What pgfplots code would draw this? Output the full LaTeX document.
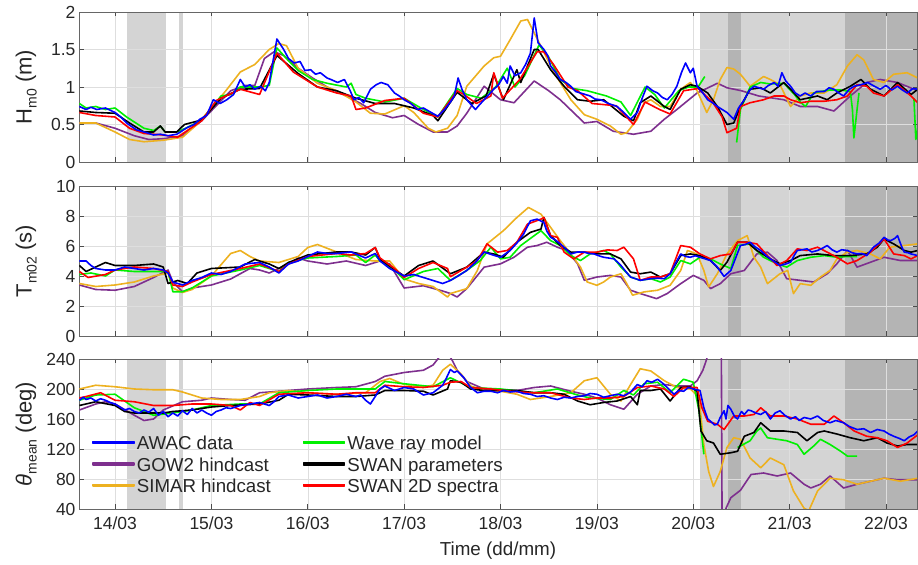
\documentclass[border=0pt]{standalone}
\usepackage{fontspec}
\setmainfont{Liberation Sans}
\usepackage{pgfplots}
\pgfplotsset{compat=1.18}

\definecolor{cAWAC}{RGB}{0,0,255}
\definecolor{cGOW}{RGB}{126,47,142}
\definecolor{cSIMAR}{RGB}{237,177,32}
\definecolor{cRay}{RGB}{0,240,0}
\definecolor{cSWANp}{RGB}{0,0,0}
\definecolor{cSWAN}{RGB}{255,0,0}
\definecolor{shadeL}{RGB}{212,212,212}
\definecolor{shadeD}{RGB}{180,180,180}
\definecolor{txt}{RGB}{38,38,38}

% lowered, smaller subscript for the axis labels
\newcommand{\sub}[1]{\raisebox{-5bp}{\fontsize{14bp}{16bp}\selectfont #1}}

% grey bands marking the periods of interest
\newcommand{\bands}[2]{%
  \begin{pgfonlayer}{axis background}
    \fill[shadeL] (axis cs:14.12,#1) rectangle (axis cs:14.53,#2);
    \fill[shadeL] (axis cs:14.667,#1) rectangle (axis cs:14.708,#2);
    \fill[shadeL] (axis cs:20.07,#1) rectangle (axis cs:22.322,#2);
    \fill[shadeD] (axis cs:20.363,#1) rectangle (axis cs:20.50,#2);
    \fill[shadeD] (axis cs:21.575,#1) rectangle (axis cs:22.322,#2);
  \end{pgfonlayer}}

\pgfplotsset{
  panel/.style={
    set layers,
    scale only axis, width=838bp, height=150bp,
    xmin=13.626, xmax=22.322,
    xtick={14,...,22},
    grid=major,
    major grid style={black!13, line width=0.5bp},
    axis line style={black!60, line width=0.6bp},
    tick style={black!70, line width=0.6bp},
    major tick length=4.5bp,
    ticklabel style={font=\fontsize{17.5bp}{20bp}\selectfont, text=txt},
    xticklabel style={yshift=-4bp},
    /pgf/number format/assume math mode=true,
    ylabel style={font=\fontsize{22bp}{25bp}\selectfont, text=txt,
      at={(axis description cs:-0.063,0.5)}, anchor=center},
    xlabel style={font=\fontsize{18.8bp}{22bp}\selectfont, text=txt,
      at={(axis description cs:0.5,-0.28)}, anchor=center},
    every axis plot/.append style={line width=1.6bp, line join=round},
    clip=true,
  },
}

\begin{document}
\begin{tikzpicture}

%% ---------------- significant wave height ----------------
\begin{axis}[panel, at={(79bp,403bp)}, anchor=south west,
  ymin=0, ymax=2, ytick={0,0.5,1,1.5,2}, xticklabels={},
  ylabel={H\sub{m0} (m)}]
\bands{0}{2}
\addplot[cGOW] coordinates {(13.63,0.52)(13.8,0.52)(14.0,0.45)(14.2,0.35)(14.35,0.30)(14.5,0.31)(14.7,0.35)(14.9,0.55)(15.05,0.75)(15.2,0.95)(15.35,1.02)(15.45,1.02)(15.55,1.38)(15.65,1.47)(15.75,1.42)(15.9,1.25)(16.05,1.12)(16.2,1.0)(16.4,0.88)(16.55,0.78)(16.7,0.66)(16.88,0.59)(17.0,0.62)(17.15,0.5)(17.3,0.40)(17.45,0.40)(17.55,0.48)(17.65,0.65)(17.83,1.01)(18.0,0.83)(18.14,0.79)(18.35,1.08)(18.5,0.95)(18.62,0.83)(18.87,0.52)(19.0,0.54)(19.17,0.41)(19.38,0.37)(19.56,0.41)(19.7,0.57)(19.83,0.70)(20.04,0.92)(20.22,1.03)(20.25,1.05)(20.35,0.99)(20.5,0.95)(20.68,0.88)(20.94,0.83)(21.11,0.74)(21.29,0.74)(21.46,0.68)(21.63,0.88)(21.8,1.06)(21.94,1.10)(22.12,1.06)(22.33,0.95)};
\addplot[cSIMAR] coordinates {(13.63,0.52)(13.8,0.52)(14.0,0.40)(14.15,0.30)(14.3,0.27)(14.5,0.29)(14.7,0.33)(14.85,0.50)(15.0,0.72)(15.15,0.95)(15.3,1.20)(15.45,1.30)(15.6,1.50)(15.7,1.58)(15.78,1.55)(15.9,1.25)(16.1,1.05)(16.3,0.95)(16.5,0.80)(16.65,0.65)(16.8,0.64)(17.0,0.75)(17.1,0.66)(17.25,0.45)(17.33,0.40)(17.45,0.45)(17.55,0.62)(17.65,1.01)(17.83,1.28)(17.93,1.39)(18.0,1.41)(18.1,1.63)(18.21,1.88)(18.28,1.90)(18.35,1.72)(18.42,1.54)(18.52,1.28)(18.62,1.06)(18.73,0.83)(18.87,0.63)(19.0,0.57)(19.14,0.48)(19.25,0.37)(19.31,0.39)(19.42,0.57)(19.49,0.79)(19.56,0.83)(19.66,0.74)(19.76,0.74)(19.87,0.97)(19.97,1.06)(20.04,0.95)(20.14,0.66)(20.21,0.83)(20.28,1.10)(20.35,1.26)(20.42,1.24)(20.49,1.17)(20.59,1.01)(20.73,1.14)(20.8,1.10)(20.9,1.03)(21.01,0.74)(21.11,0.88)(21.22,0.92)(21.36,0.92)(21.49,1.03)(21.6,1.28)(21.7,1.43)(21.77,1.36)(21.87,1.10)(21.98,1.06)(22.08,1.17)(22.22,1.19)(22.33,1.12)};
\addplot[cRay] coordinates {(13.63,0.78)(13.7,0.72)(13.8,0.74)(13.9,0.70)(14.0,0.72)(14.12,0.60)(14.3,0.45)(14.4,0.42)(14.47,0.48)(14.52,0.40)(14.64,0.40)(14.75,0.46)(14.9,0.56)(15.1,0.88)(15.2,0.90)(15.3,1.0)(15.5,1.0)(15.6,1.02)(15.68,1.52)(15.8,1.35)(15.9,1.22)(16.05,1.1)(16.2,1.05)(16.4,1.0)(16.45,1.05)(16.5,0.90)(16.6,0.85)(16.8,0.80)(17.0,0.85)(17.2,0.7)(17.35,0.6)(17.55,0.98)(17.65,0.90)(17.8,0.85)(17.95,1.0)(18.07,1.25)(18.15,1.0)(18.25,1.15)(18.4,1.56)(18.5,1.4)(18.62,1.1)(18.75,0.98)(18.9,0.95)(19.1,0.88)(19.25,0.8)(19.35,0.62)(19.5,1.0)(19.6,0.9)(19.7,0.72)(19.85,0.95)(19.95,1.0)(20.05,1.0)(20.12,1.14)};
\addplot[cRay] coordinates {(20.45,0.26)(20.49,0.70)(20.59,1.0)(20.7,1.06)(20.8,1.04)(20.94,1.05)(21.05,0.90)(21.11,0.80)(21.165,0.74)(21.25,0.92)(21.32,0.94)(21.42,0.96)(21.53,0.96)(21.63,0.94)(21.652,0.70)(21.667,0.32)(21.70,0.70)(21.72,0.92)};
\addplot[cRay] coordinates {(22.29,0.85)(22.31,0.30)(22.33,0.45)};
\addplot[cSWANp] coordinates {(13.63,0.68)(13.8,0.66)(14.0,0.65)(14.15,0.52)(14.3,0.40)(14.4,0.40)(14.47,0.48)(14.52,0.40)(14.64,0.40)(14.72,0.50)(14.9,0.56)(15.1,0.85)(15.3,0.97)(15.5,0.98)(15.68,1.42)(15.9,1.18)(16.1,1.0)(16.3,0.95)(16.5,0.85)(16.7,0.78)(16.9,0.78)(17.1,0.72)(17.3,0.62)(17.35,0.55)(17.55,0.93)(17.7,0.78)(17.85,0.88)(17.93,1.17)(18.03,0.83)(18.17,1.23)(18.21,1.06)(18.35,1.5)(18.39,1.5)(18.52,1.23)(18.66,1.01)(18.8,0.83)(18.93,0.81)(19.07,0.83)(19.28,0.61)(19.38,0.55)(19.45,0.79)(19.56,0.88)(19.7,0.74)(19.76,0.70)(19.87,0.97)(19.97,1.03)(20.04,1.01)(20.15,0.92)(20.25,0.74)(20.35,0.50)(20.42,0.52)(20.49,0.74)(20.59,0.97)(20.7,0.99)(20.8,0.92)(20.94,1.06)(21.01,0.97)(21.11,0.83)(21.29,0.88)(21.39,0.83)(21.49,0.92)(21.63,1.01)(21.74,1.10)(21.84,0.97)(21.98,0.88)(22.12,1.06)(22.26,0.90)(22.33,0.97)};
\addplot[cSWAN] coordinates {(13.63,0.66)(13.8,0.62)(14.0,0.60)(14.15,0.45)(14.3,0.38)(14.5,0.36)(14.65,0.33)(14.75,0.42)(14.9,0.55)(15.05,0.82)(15.3,0.97)(15.5,0.90)(15.68,1.45)(15.85,1.2)(16.1,1.0)(16.3,0.92)(16.45,0.88)(16.5,0.70)(16.6,0.72)(16.8,0.82)(17.0,0.85)(17.2,0.65)(17.35,0.6)(17.55,0.95)(17.62,0.9)(17.75,0.78)(17.9,0.88)(17.93,1.19)(18.02,0.85)(18.2,1.1)(18.38,1.47)(18.45,1.47)(18.55,1.3)(18.7,1.0)(18.8,0.95)(18.95,0.78)(19.2,0.75)(19.38,0.50)(19.5,0.8)(19.65,0.7)(19.76,0.64)(19.9,0.95)(20.05,0.98)(20.2,0.8)(20.3,0.6)(20.35,0.39)(20.45,0.45)(20.49,0.74)(20.59,0.79)(20.73,0.83)(20.84,0.88)(20.94,0.88)(21.01,0.83)(21.11,0.79)(21.22,0.81)(21.36,0.81)(21.49,0.83)(21.6,0.88)(21.7,1.03)(21.8,1.01)(21.87,0.92)(21.98,0.88)(22.12,1.03)(22.26,0.88)(22.33,0.79)};
\addplot[cAWAC] coordinates {(13.63,0.74)(13.7,0.70)(13.75,0.73)(13.81,0.70)(13.9,0.72)(14.0,0.66)(14.06,0.60)(14.12,0.52)(14.22,0.43)(14.33,0.39)(14.40,0.36)(14.47,0.37)(14.55,0.35)(14.64,0.37)(14.75,0.46)(14.82,0.50)(14.88,0.57)(14.95,0.62)(15.02,0.83)(15.09,0.78)(15.16,0.83)(15.23,0.90)(15.30,1.10)(15.35,1.0)(15.40,1.03)(15.45,0.97)(15.51,1.01)(15.56,0.95)(15.60,1.06)(15.68,1.64)(15.75,1.50)(15.80,1.38)(15.86,1.32)(15.92,1.34)(15.97,1.22)(16.03,1.23)(16.08,1.17)(16.13,1.19)(16.2,1.12)(16.24,1.10)(16.31,1.06)(16.38,1.10)(16.44,0.95)(16.48,0.83)(16.53,0.86)(16.58,0.79)(16.65,0.97)(16.71,1.03)(16.76,1.06)(16.83,1.03)(16.90,0.92)(16.95,0.88)(17.0,0.83)(17.07,0.78)(17.14,0.70)(17.2,0.72)(17.28,0.66)(17.35,0.61)(17.42,0.70)(17.48,0.80)(17.52,0.88)(17.56,1.12)(17.60,0.97)(17.65,0.83)(17.74,0.70)(17.78,0.76)(17.83,0.83)(17.88,0.90)(17.93,0.97)(17.98,1.03)(18.03,1.14)(18.07,1.05)(18.10,1.28)(18.15,1.15)(18.21,1.19)(18.26,1.30)(18.31,1.45)(18.35,1.92)(18.39,1.59)(18.45,1.50)(18.49,1.42)(18.52,1.28)(18.57,1.20)(18.62,1.10)(18.68,1.06)(18.73,1.01)(18.78,0.94)(18.83,0.92)(18.88,0.90)(18.93,0.88)(18.98,0.84)(19.04,0.83)(19.12,0.78)(19.21,0.74)(19.28,0.66)(19.35,0.57)(19.42,0.66)(19.47,0.85)(19.52,1.01)(19.58,0.95)(19.63,0.92)(19.68,0.86)(19.73,0.83)(19.78,0.90)(19.83,1.01)(19.88,1.20)(19.92,1.32)(19.97,1.19)(20.0,1.25)(20.04,1.01)(20.1,0.92)(20.15,0.83)(20.2,0.79)(20.25,0.74)(20.3,0.70)(20.35,0.66)(20.42,0.57)(20.47,0.72)(20.53,0.83)(20.58,0.95)(20.63,1.01)(20.68,0.99)(20.73,0.97)(20.78,1.02)(20.84,1.06)(20.88,1.01)(20.92,1.19)(20.96,1.08)(21.01,1.01)(21.06,0.92)(21.11,0.88)(21.16,0.92)(21.22,0.88)(21.28,0.94)(21.36,0.94)(21.41,0.99)(21.46,0.97)(21.51,0.92)(21.56,0.88)(21.62,0.97)(21.67,1.01)(21.74,1.03)(21.81,1.06)(21.88,1.01)(21.94,0.97)(22.0,1.02)(22.06,0.96)(22.12,1.01)(22.17,0.96)(22.22,0.92)(22.28,0.98)(22.33,0.97)};
\end{axis}

%% ---------------- mean period ----------------
\begin{axis}[panel, at={(79bp,229bp)}, anchor=south west,
  ymin=0, ymax=10, ytick={0,2,...,10}, xticklabels={},
  ylabel={T\sub{m02} (s)}]
\bands{0}{10}
\addplot[cGOW] coordinates {(13.63,3.4)(13.8,3.1)(14.0,3.05)(14.2,3.3)(14.4,3.9)(14.55,4.4)(14.6,3.6)(14.7,2.95)(14.8,3.2)(15.0,3.4)(15.2,3.8)(15.4,4.5)(15.5,4.4)(15.6,4.2)(15.7,4.5)(15.8,4.8)(15.9,5.2)(16.0,5.0)(16.2,4.8)(16.4,5.0)(16.6,4.7)(16.75,5.0)(16.85,4.8)(17.0,3.2)(17.2,3.35)(17.4,3.0)(17.48,2.83)(17.55,2.60)(17.65,3.16)(17.83,4.59)(18.0,4.81)(18.14,5.25)(18.28,5.92)(18.38,6.03)(18.48,6.25)(18.59,5.92)(18.69,5.70)(18.8,4.81)(18.87,3.71)(19.0,3.93)(19.14,4.04)(19.25,3.93)(19.35,3.05)(19.45,2.83)(19.62,2.49)(19.73,2.83)(19.87,3.49)(20.0,4.04)(20.11,3.71)(20.18,3.16)(20.28,3.49)(20.39,4.15)(20.53,4.37)(20.66,5.47)(20.77,5.59)(20.87,5.03)(20.97,3.82)(21.11,3.71)(21.25,3.60)(21.39,4.15)(21.49,4.81)(21.6,5.70)(21.7,4.59)(21.84,4.92)(21.98,5.25)(22.15,5.03)(22.33,5.03)};
\addplot[cSIMAR] coordinates {(13.63,3.5)(13.8,3.3)(14.0,3.4)(14.2,3.6)(14.4,4.0)(14.55,4.2)(14.6,3.2)(14.7,2.9)(14.8,3.1)(15.0,4.0)(15.2,5.5)(15.3,5.7)(15.4,5.3)(15.5,5.0)(15.7,4.9)(15.9,5.3)(16.0,5.9)(16.1,6.1)(16.3,5.6)(16.5,5.1)(16.7,5.0)(16.85,5.0)(17.0,3.8)(17.15,3.5)(17.3,3.3)(17.45,2.6)(17.48,2.83)(17.65,3.16)(17.76,4.37)(17.86,6.14)(18.03,7.02)(18.17,7.90)(18.29,8.57)(18.42,8.12)(18.52,7.24)(18.62,6.36)(18.73,5.47)(18.83,4.59)(18.9,3.60)(19.0,3.38)(19.07,3.60)(19.14,3.93)(19.25,4.15)(19.31,3.49)(19.37,2.72)(19.49,2.94)(19.63,3.05)(19.76,3.38)(19.87,4.37)(19.94,5.70)(20.04,5.47)(20.11,4.37)(20.16,3.27)(20.25,4.15)(20.35,5.47)(20.46,6.36)(20.56,6.69)(20.63,5.25)(20.7,4.59)(20.77,3.49)(20.9,4.15)(20.98,4.37)(21.04,2.83)(21.11,3.49)(21.22,3.38)(21.32,3.93)(21.42,4.37)(21.49,5.14)(21.6,5.59)(21.7,5.70)(21.84,5.47)(21.94,5.14)(22.04,5.92)(22.19,6.03)(22.33,6.14)};
\addplot[cRay] coordinates {(13.63,4.1)(13.75,4.2)(13.9,4.0)(14.0,4.4)(14.2,4.3)(14.4,4.3)(14.55,4.3)(14.6,2.95)(14.7,2.95)(14.8,3.2)(15.0,4.0)(15.3,4.4)(15.5,4.7)(15.7,4.3)(15.8,4.9)(16.0,5.2)(16.3,5.3)(16.5,5.4)(16.6,4.9)(16.7,5.4)(16.75,5.0)(16.9,4.4)(17.0,3.75)(17.2,4.3)(17.35,4.5)(17.48,3.71)(17.65,4.37)(17.79,5.03)(17.9,5.92)(18.0,5.14)(18.1,5.25)(18.21,6.03)(18.35,6.69)(18.42,7.02)(18.52,6.36)(18.62,6.03)(18.73,5.36)(18.83,5.03)(18.93,5.47)(19.07,5.70)(19.14,5.47)(19.25,4.59)(19.35,3.93)(19.45,3.71)(19.56,3.82)(19.66,3.60)(19.76,3.93)(19.87,5.03)(19.97,4.81)(20.07,5.25)(20.18,5.14)(20.28,4.8)(20.39,4.5)(20.46,6.03)(20.59,6.14)(20.73,5.25)(20.87,4.81)(20.97,4.59)(21.08,5.03)(21.22,5.25)(21.36,5.36)(21.49,5.25)(21.6,5.3)(21.7,5.3)};
\addplot[cSWANp] coordinates {(13.63,4.7)(13.7,4.3)(13.9,4.9)(14.0,4.7)(14.2,4.7)(14.4,4.8)(14.5,4.6)(14.55,3.5)(14.65,3.7)(14.75,3.5)(14.85,4.2)(15.0,4.5)(15.3,4.6)(15.45,5.1)(15.6,4.8)(15.7,4.5)(15.8,4.9)(16.0,5.4)(16.3,5.6)(16.45,5.6)(16.6,5.4)(16.7,5.9)(16.75,5.1)(17.0,4.0)(17.15,4.7)(17.3,5.0)(17.48,4.15)(17.65,4.59)(17.83,5.59)(17.93,5.47)(18.03,5.25)(18.17,6.25)(18.31,6.91)(18.42,7.13)(18.45,7.90)(18.52,6.69)(18.62,6.03)(18.73,5.59)(18.87,5.59)(19.0,5.47)(19.14,5.47)(19.25,5.14)(19.35,4.26)(19.45,4.15)(19.56,4.26)(19.66,3.93)(19.76,4.15)(19.87,5.36)(19.97,5.47)(20.07,5.36)(20.18,5.03)(20.28,4.37)(20.35,4.92)(20.46,6.25)(20.56,6.25)(20.66,5.70)(20.8,5.14)(20.9,4.81)(21.01,5.03)(21.11,5.36)(21.29,5.47)(21.46,5.36)(21.63,5.36)(21.8,5.47)(21.91,5.92)(21.98,6.47)(22.08,6.14)(22.19,5.70)(22.26,5.59)(22.33,5.70)};
\addplot[cSWAN] coordinates {(13.63,4.3)(13.72,3.9)(13.9,4.1)(14.0,4.4)(14.2,4.6)(14.4,4.5)(14.55,4.3)(14.6,3.4)(14.7,3.3)(14.8,3.6)(15.0,4.1)(15.3,4.5)(15.5,4.8)(15.7,4.3)(15.8,4.8)(16.0,5.3)(16.3,5.5)(16.45,5.4)(16.6,5.5)(16.7,5.9)(16.75,5.2)(16.9,4.5)(17.0,3.9)(17.15,4.5)(17.3,4.9)(17.45,4.5)(17.48,3.95)(17.65,4.59)(17.76,5.03)(17.86,6.14)(17.97,5.59)(18.07,5.70)(18.17,6.25)(18.28,7.46)(18.42,7.79)(18.45,7.90)(18.52,6.69)(18.59,6.58)(18.66,5.59)(18.76,5.14)(18.87,5.59)(19.0,5.59)(19.11,5.74)(19.21,5.70)(19.28,5.92)(19.38,5.14)(19.45,3.71)(19.56,3.93)(19.66,3.93)(19.76,4.15)(19.87,6.03)(19.97,5.92)(20.07,5.47)(20.18,5.14)(20.28,5.36)(20.39,5.47)(20.46,6.25)(20.56,6.25)(20.66,6.14)(20.77,5.36)(20.87,4.70)(20.97,5.03)(21.08,5.81)(21.18,5.70)(21.29,5.92)(21.39,5.59)(21.49,5.25)(21.6,4.81)(21.7,5.03)(21.84,5.59)(21.98,6.47)(22.08,5.47)(22.19,5.36)(22.26,5.14)(22.33,5.36)};
\addplot[cAWAC] coordinates {(13.63,5.0)(13.7,5.0)(13.75,4.7)(13.8,4.5)(13.9,4.4)(14.0,4.4)(14.1,4.6)(14.2,4.5)(14.3,4.4)(14.4,4.5)(14.5,4.4)(14.55,4.2)(14.6,3.6)(14.7,3.4)(14.8,3.7)(14.9,3.9)(15.0,4.2)(15.1,4.1)(15.2,4.3)(15.35,4.8)(15.5,4.9)(15.6,4.6)(15.7,4.2)(15.8,4.8)(15.9,5.0)(16.0,5.3)(16.1,5.6)(16.2,5.5)(16.3,5.5)(16.45,5.6)(16.6,5.2)(16.7,5.5)(16.75,5.0)(16.85,4.5)(17.0,4.0)(17.1,4.1)(17.2,3.9)(17.3,3.7)(17.4,3.5)(17.48,3.7)(17.56,4.0)(17.65,4.37)(17.74,4.9)(17.83,5.6)(17.92,5.4)(18.0,5.25)(18.1,5.7)(18.17,6.2)(18.24,6.8)(18.31,7.68)(18.38,7.79)(18.45,7.57)(18.48,7.0)(18.52,6.58)(18.57,6.4)(18.62,6.14)(18.68,5.8)(18.73,5.47)(18.8,5.6)(18.87,5.59)(18.92,5.5)(18.97,5.47)(19.02,5.35)(19.07,5.25)(19.12,5.2)(19.18,5.14)(19.25,4.70)(19.30,4.3)(19.35,3.93)(19.45,3.71)(19.56,3.82)(19.63,3.85)(19.7,3.82)(19.76,4.15)(19.82,4.9)(19.87,5.47)(19.92,5.3)(19.97,5.25)(20.02,5.35)(20.07,5.25)(20.12,5.15)(20.18,5.03)(20.25,4.59)(20.32,3.97)(20.39,4.37)(20.44,5.2)(20.49,6.03)(20.54,6.1)(20.59,6.25)(20.64,5.95)(20.7,5.70)(20.75,5.4)(20.8,5.14)(20.9,4.70)(20.96,4.8)(21.01,4.92)(21.05,5.4)(21.08,5.70)(21.13,5.75)(21.18,5.81)(21.23,5.6)(21.29,5.70)(21.34,5.85)(21.39,6.03)(21.44,5.75)(21.49,5.59)(21.54,5.75)(21.6,5.70)(21.65,5.55)(21.7,5.47)(21.75,5.5)(21.8,5.36)(21.87,5.92)(21.93,6.2)(21.98,6.58)(22.02,6.4)(22.05,6.36)(22.09,6.5)(22.12,6.69)(22.16,6.0)(22.19,5.59)(22.23,5.55)(22.26,5.47)(22.33,5.36)};
\end{axis}

%% ---------------- mean direction ----------------
\begin{axis}[panel, at={(79bp,56bp)}, anchor=south west,
  ymin=40, ymax=240, ytick={40,80,...,240},
  xticklabels={14/03,15/03,16/03,17/03,18/03,19/03,20/03,21/03,22/03},
  xlabel={Time (dd/mm)},
  ylabel={{\itshape θ}\sub{mean} (deg)},
  legend columns=2,
  legend cell align=left,
  legend image code/.code={\fill[#1] (0bp,-0.9bp) rectangle (41bp,0.9bp);},
  legend style={at={(axis description cs:0.012,0.53)}, anchor=north west,
    draw=none, fill=none,
    font=\fontsize{18.7bp}{21.5bp}\selectfont, text=txt,
    /tikz/every even column/.append style={column sep=30bp}}]
\bands{40}{240}
\addlegendimage{color=cAWAC}\addlegendentry{AWAC data\rule[-6bp]{0pt}{22bp}}
\addlegendimage{color=cRay}\addlegendentry{Wave ray model\rule[-6bp]{0pt}{22bp}}
\addlegendimage{color=cGOW}\addlegendentry{GOW2 hindcast\rule[-6bp]{0pt}{22bp}}
\addlegendimage{color=cSWANp}\addlegendentry{SWAN parameters\rule[-6bp]{0pt}{22bp}}
\addlegendimage{color=cSIMAR}\addlegendentry{SIMAR hindcast\rule[-6bp]{0pt}{22bp}}
\addlegendimage{color=cSWAN}\addlegendentry{SWAN 2D spectra\rule[-6bp]{0pt}{22bp}}
\addplot[cGOW, forget plot] coordinates {(13.63,172)(13.8,180)(13.9,183)(14.0,180)(14.2,165)(14.3,158)(14.4,160)(14.5,172)(14.7,183)(14.9,185)(15.0,188)(15.2,186)(15.35,185)(15.5,195)(15.7,197)(16.0,200)(16.3,202)(16.5,203)(16.7,210)(16.8,217)(17.0,222)(17.2,225)(17.3,232)(17.38,245)(17.45,248)(17.5,238)(17.55,225)(17.65,210)(17.83,200)(18.17,198)(18.35,202)(18.52,204)(18.73,197)(18.87,193)(19.0,188)(19.14,179)(19.28,173)(19.42,193)(19.56,204)(19.7,206)(19.83,204)(19.97,204)(20.04,211)(20.1,225)(20.14,240)(20.2,280)(20.29,300)(20.30,0)(20.33,30)(20.34,41)(20.39,55)(20.49,65)(20.6,86)(20.73,88)(20.87,84)(21.01,88)(21.15,73)(21.22,68)(21.32,73)(21.42,84)(21.56,68)(21.7,73)(21.84,77)(21.98,81)(22.12,79)(22.33,79)};
\addplot[cSIMAR, forget plot] coordinates {(13.63,200)(13.8,205)(14.0,203)(14.2,200)(14.4,199)(14.6,199)(14.7,196)(14.9,188)(15.1,186)(15.3,186)(15.5,190)(15.6,195)(15.8,198)(16.0,195)(16.3,193)(16.6,195)(16.75,210)(16.85,214)(17.0,206)(17.2,203)(17.3,205)(17.4,225)(17.48,233)(17.59,220)(17.69,204)(17.83,198)(18.0,197)(18.17,193)(18.31,186)(18.52,190)(18.73,195)(18.87,211)(19.0,215)(19.14,193)(19.25,184)(19.35,206)(19.45,227)(19.56,224)(19.7,211)(19.83,202)(19.97,200)(20.06,189)(20.11,126)(20.16,90)(20.21,70)(20.28,90)(20.35,122)(20.42,135)(20.49,133)(20.59,108)(20.7,95)(20.8,108)(20.94,99)(21.04,64)(21.15,41)(21.2,38)(21.29,64)(21.42,81)(21.56,79)(21.7,73)(21.84,77)(21.98,81)(22.15,77)(22.33,81)};
\addplot[cRay, forget plot] coordinates {(13.63,185)(13.8,192)(14.0,193)(14.2,175)(14.4,165)(14.6,168)(14.8,172)(15.0,178)(15.3,180)(15.5,180)(15.7,195)(16.0,198)(16.3,200)(16.5,200)(16.7,200)(16.8,210)(17.0,207)(17.3,203)(17.48,215)(17.69,202)(18.0,200)(18.35,195)(18.59,200)(18.8,192)(18.93,188)(19.14,186)(19.28,198)(19.38,192)(19.49,207)(19.63,209)(19.76,195)(19.9,213)(20.0,209)(20.06,171)(20.11,113)};
\addplot[cRay, forget plot] coordinates {(20.46,122)(20.59,131)(20.66,144)(20.7,148)(20.77,135)(20.87,133)(20.97,131)(21.08,126)(21.15,113)(21.25,124)(21.32,133)(21.42,126)(21.53,117)(21.6,110.5)(21.7,110.5)};
\addplot[cSWANp, forget plot] coordinates {(13.63,178)(13.8,183)(14.0,178)(14.1,170)(14.2,168)(14.3,168)(14.5,168)(14.6,170)(14.8,172)(15.0,176)(15.2,178)(15.5,180)(15.7,185)(15.8,193)(16.0,192)(16.3,190)(16.5,190)(16.7,192)(16.8,198)(17.0,198)(17.2,197)(17.3,192)(17.45,200)(17.48,211)(17.59,209)(17.69,200)(17.83,198)(18.0,198)(18.17,198)(18.35,195)(18.52,195)(18.66,193)(18.8,184)(18.93,179)(19.07,182)(19.21,184)(19.35,190)(19.42,179)(19.45,198)(19.56,198)(19.66,200)(19.76,184)(19.87,202)(19.97,203)(20.04,197)(20.08,144)(20.14,131)(20.21,128)(20.28,113)(20.39,115)(20.46,117)(20.53,137)(20.63,142)(20.7,155)(20.8,144)(20.94,144)(21.08,142)(21.18,131)(21.29,142)(21.36,144)(21.49,140)(21.63,135)(21.77,131)(21.91,135)(22.01,128)(22.12,124)(22.22,126)(22.33,126)};
\addplot[cSWAN, forget plot] coordinates {(13.63,188)(13.7,190)(13.85,195)(14.0,185)(14.2,183)(14.4,178)(14.6,178)(14.8,180)(15.0,180)(15.2,178)(15.3,172)(15.4,182)(15.5,178)(15.7,193)(16.0,195)(16.3,193)(16.5,195)(16.7,195)(16.8,205)(17.0,203)(17.2,202)(17.4,205)(17.48,209)(17.59,210)(17.69,202)(17.9,200)(18.1,197)(18.31,195)(18.52,195)(18.73,188)(18.87,186)(19.0,188)(19.14,188)(19.28,190)(19.42,202)(19.56,204)(19.7,200)(19.8,190)(19.9,202)(20.04,202)(20.09,175)(20.15,157)(20.25,153)(20.32,146)(20.42,164)(20.53,164)(20.63,166)(20.7,175)(20.8,164)(20.94,164)(21.08,160)(21.22,153)(21.36,153)(21.46,164)(21.56,155)(21.67,144)(21.8,137)(21.91,135)(22.01,131)(22.12,122)(22.22,128)(22.33,139)};
\addplot[cAWAC, forget plot] coordinates {(13.63,185)(13.67,189)(13.7,186)(13.75,188)(13.8,184)(13.85,187)(13.9,185)(13.95,182)(14.0,180)(14.05,176)(14.1,172)(14.15,174)(14.2,170)(14.25,168)(14.3,172)(14.35,169)(14.4,174)(14.45,165)(14.5,170)(14.55,163)(14.6,168)(14.65,164)(14.7,171)(14.75,166)(14.8,174)(14.85,168)(14.9,172)(14.95,168)(15.0,165)(15.05,170)(15.1,172)(15.15,175)(15.2,174)(15.3,178)(15.4,180)(15.5,182)(15.6,178)(15.65,183)(15.7,190)(15.8,192)(15.9,188)(16.0,190)(16.1,192)(16.2,188)(16.3,190)(16.4,193)(16.5,190)(16.55,192)(16.6,185)(16.65,180)(16.7,190)(16.75,200)(16.8,204)(16.9,198)(17.0,202)(17.1,200)(17.2,192)(17.3,195)(17.4,205)(17.44,215)(17.48,226)(17.52,222)(17.55,224)(17.62,215)(17.69,202)(17.76,195)(17.83,197)(17.9,197)(17.97,195)(18.03,198)(18.1,196)(18.17,197)(18.24,194)(18.31,193)(18.38,190)(18.45,191)(18.52,188)(18.59,186)(18.66,189)(18.73,188)(18.8,190)(18.87,191)(18.93,194)(19.0,193)(19.07,189)(19.14,191)(19.21,193)(19.28,191)(19.35,196)(19.42,206)(19.47,203)(19.52,211)(19.57,209)(19.63,213)(19.68,208)(19.73,202)(19.8,193)(19.85,198)(19.9,197)(19.95,202)(20.0,200)(20.07,198)(20.11,175)(20.15,160)(20.18,157)(20.22,152)(20.25,153)(20.28,162)(20.32,171)(20.34,160)(20.36,178)(20.39,173)(20.43,163)(20.46,160)(20.5,170)(20.53,166)(20.57,172)(20.6,171)(20.65,168)(20.7,166)(20.75,170)(20.8,160)(20.85,168)(20.9,171)(20.95,165)(21.01,160)(21.06,163)(21.1,158)(21.15,162)(21.22,160)(21.29,164)(21.35,158)(21.42,155)(21.48,158)(21.56,155)(21.62,150)(21.7,146)(21.77,147)(21.84,142)(21.91,146)(21.98,144)(22.03,140)(22.08,137)(22.14,134)(22.19,131)(22.24,136)(22.29,139)(22.33,144)};
\end{axis}

\pgfresetboundingbox
\path (0bp,0bp) rectangle (918bp,565bp);
\end{tikzpicture}
\end{document}
